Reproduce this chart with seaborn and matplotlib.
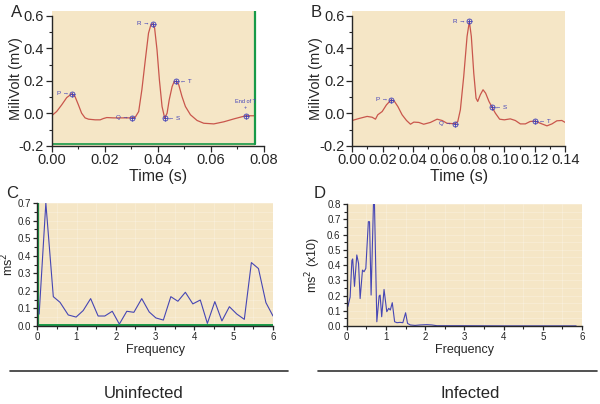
import numpy as np
import pandas as pd
import seaborn as sns
from matplotlib import pyplot as plt
from matplotlib.lines import Line2D
from matplotlib.patches import Rectangle
from matplotlib.ticker import MultipleLocator

# ECG trace, uninfected (panel A)
ecg_a_time = [0.0, 0.0019, 0.0038, 0.0057, 0.0076, 0.0088, 0.0101, 0.0113, 0.0126, 0.0139,
              0.0164, 0.0183, 0.0195, 0.0208, 0.0233, 0.0271, 0.0302, 0.0315, 0.0328, 0.0340,
              0.0353, 0.0365, 0.0374, 0.0382, 0.0388, 0.0397, 0.0406, 0.0416, 0.0426, 0.0435,
              0.0443, 0.0454, 0.0462, 0.0470, 0.0479, 0.0491, 0.0504, 0.0523, 0.0548, 0.0573,
              0.0611, 0.0649, 0.0687, 0.0731, 0.0765]
ecg_a_mv = [-0.015, 0.011, 0.052, 0.097, 0.120, 0.104, 0.052, 0.001, -0.028, -0.036,
            -0.040, -0.040, -0.032, -0.026, -0.028, -0.028, -0.028, -0.024, 0.011, 0.145,
            0.329, 0.493, 0.545, 0.551, 0.524, 0.391, 0.206, 0.042, -0.030, 0.001,
            0.083, 0.165, 0.196, 0.196, 0.175, 0.104, 0.042, -0.009, -0.044, -0.061,
            -0.065, -0.052, -0.034, -0.015, -0.015]
wave_a_names = ["P", "Q", "R", "S", "T", "End of T"]
wave_a_time = [0.0078, 0.0302, 0.0382, 0.0426, 0.0470, 0.0731]
wave_a_mv = [0.120, -0.028, 0.551, -0.030, 0.196, -0.015]

# ECG trace, infected (panel B)
ecg_b_time = [0.0, 0.0044, 0.0098, 0.0131, 0.0153, 0.0168, 0.0197, 0.0225, 0.0256, 0.0278,
              0.0300, 0.0328, 0.0357, 0.0383, 0.0405, 0.0438, 0.0470, 0.0514, 0.0558, 0.0591,
              0.0623, 0.0656, 0.0678, 0.0694, 0.0711, 0.0733, 0.0755, 0.0770, 0.0783, 0.0799,
              0.0814, 0.0825, 0.0842, 0.0860, 0.0877, 0.0899, 0.0919, 0.0941, 0.0969, 0.1000,
              0.1039, 0.1072, 0.1105, 0.1138, 0.1170, 0.1203, 0.1236, 0.1280, 0.1313, 0.1345,
              0.1378, 0.1400]
ecg_b_mv = [-0.044, -0.032, -0.019, -0.024, -0.036, -0.009, 0.011, 0.052, 0.083, 0.073,
            0.042, -0.009, -0.044, -0.067, -0.054, -0.056, -0.067, -0.056, -0.036, -0.044,
            -0.061, -0.063, -0.063, -0.050, 0.022, 0.227, 0.473, 0.565, 0.473, 0.247,
            0.093, 0.073, 0.114, 0.145, 0.124, 0.073, 0.038, 0.001, -0.036, -0.040,
            -0.034, -0.044, -0.065, -0.065, -0.050, -0.048, -0.061, -0.077, -0.065, -0.046,
            -0.044, -0.056]
wave_b_names = ["P", "Q", "R", "S", "T"]
wave_b_time = [0.0256, 0.0678, 0.0770, 0.0919, 0.1203]
wave_b_mv = [0.083, -0.063, 0.565, 0.038, -0.048]

# power spectra (panels C and D)
freq_c = [0.05, 0.22, 0.41, 0.58, 0.79, 0.99, 1.17, 1.36, 1.55, 1.72, 1.91, 2.09, 2.28,
          2.46, 2.66, 2.85, 3.02, 3.21, 3.40, 3.58, 3.77, 3.96, 4.15, 4.33, 4.52, 4.70,
          4.89, 5.08, 5.27, 5.45, 5.63, 5.82, 6.0]
power_c = [0.068, 0.70, 0.167, 0.135, 0.063, 0.051, 0.088, 0.156, 0.057, 0.057, 0.084,
           0.011, 0.084, 0.078, 0.156, 0.080, 0.046, 0.034, 0.167, 0.141, 0.192, 0.126,
           0.148, 0.015, 0.139, 0.029, 0.110, 0.068, 0.038, 0.361, 0.327, 0.133, 0.057]
freq_d = [0.026, 0.085, 0.13, 0.15, 0.196, 0.255, 0.30, 0.34, 0.40, 0.44, 0.485, 0.55,
          0.58, 0.62, 0.68, 0.706, 0.766, 0.825, 0.85, 0.89, 0.95, 1.02, 1.07, 1.11, 1.16,
          1.22, 1.28, 1.36, 1.43, 1.50, 1.55, 1.62, 1.74, 1.87, 2.04, 2.17, 2.30, 3.0,
          4.0, 5.0, 5.85]
power_d = [0.127, 0.19, 0.43, 0.44, 0.26, 0.466, 0.41, 0.18, 0.367, 0.356, 0.378, 0.684,
           0.684, 0.203, 0.80, 0.80, 0.028, 0.197, 0.203, 0.061, 0.24, 0.094, 0.116, 0.105,
           0.153, 0.028, 0.022, 0.024, 0.022, 0.087, 0.017, 0.007, 0.004, 0.007, 0.009,
           0.007, 0.002, 0.002, 0.001, 0.001, 0.001]

BG = "#f5e6c6"
RED = "#c9564c"
BLUE = "#4646b4"
GREEN = "#179a48"
LABEL_BLUE = "#4040b8"

sns.set_style("ticks")
plt.rcParams["font.family"] = ["Liberation Sans", "DejaVu Sans"]
plt.rcParams["axes.unicode_minus"] = False

fig = plt.figure(figsize=(6, 4.04), dpi=100)
ax_a = fig.add_axes([0.086, 0.639, 0.354, 0.334])
ax_b = fig.add_axes([0.587, 0.639, 0.355, 0.334])
ax_c = fig.add_axes([0.062, 0.193, 0.393, 0.3045])
ax_d = fig.add_axes([0.578, 0.193, 0.392, 0.302])


def style_axes(ax, fontsize, major_len=4):
    sns.despine(ax=ax)
    ax.tick_params(axis="both", which="major", direction="out", length=major_len, width=0.9,
                   labelsize=fontsize, pad=1.5)
    ax.tick_params(axis="both", which="minor", direction="out", length=2, width=0.8)
    for side in ("left", "bottom"):
        ax.spines[side].set_linewidth(1.0)


def draw_waves(ax, names, times, values, right_side):
    ax.plot(times, values, ls="none", marker="o", ms=3.6, mfc="none", mec=LABEL_BLUE, mew=0.6)
    ax.plot(times, values, ls="none", marker="+", ms=3.6, mec=LABEL_BLUE, mew=0.6)
    for name, t, v in zip(names, times, values):
        if name == "End of T":
            ax.annotate("End of T\n+", (t, v), xytext=(0, 4), textcoords="offset points",
                        ha="center", va="bottom", fontsize=4, color=LABEL_BLUE, linespacing=1.4)
        elif name in right_side:
            ax.annotate("\u2190 " + name, (t, v), xytext=(2.5, 0), textcoords="offset points",
                        ha="left", va="center", fontsize=4.5, color=LABEL_BLUE)
        else:
            ax.annotate(name + " \u2192", (t, v), xytext=(-2.5, 0), textcoords="offset points",
                        ha="right", va="center", fontsize=4.5, color=LABEL_BLUE)


# panel A
ecg_a = pd.DataFrame({"time": ecg_a_time, "mv": ecg_a_mv})
ax_a.set_facecolor("white")
ax_a.add_patch(Rectangle((0, -0.2), 0.0767, 0.83, facecolor=BG, edgecolor="none", zorder=0))
sns.lineplot(data=ecg_a, x="time", y="mv", ax=ax_a, color=RED, lw=0.9, sort=False)
ax_a.plot([0.0767, 0.0767], [-0.19, 0.63], color=GREEN, lw=1.6)
ax_a.plot([0, 0.0767], [-0.19, -0.19], color=GREEN, lw=1.2)
draw_waves(ax_a, wave_a_names, wave_a_time, wave_a_mv, right_side=("S", "T"))
ax_a.set_xlim(0, 0.08)
ax_a.set_ylim(-0.2, 0.63)
ax_a.spines["left"].set_bounds(-0.2, 0.6)
ax_a.xaxis.set_minor_locator(MultipleLocator(0.01))
ax_a.yaxis.set_minor_locator(MultipleLocator(0.1))
ax_a.set_yticks([-0.2, 0.0, 0.2, 0.4, 0.6])
ax_a.set_xticks(np.round(np.arange(0, 0.081, 0.02), 2))
ax_a.set_xticklabels([f"{v:.2f}" for v in ax_a.get_xticks()])
ax_a.set_yticklabels([f"{v:.1f}" for v in ax_a.get_yticks()])
style_axes(ax_a, 10.5)
ax_a.set_xlabel("Time (s)", fontsize=11.5, labelpad=1)
ax_a.set_ylabel("MiliVolt (mV)", fontsize=10.5)
ax_a.yaxis.set_label_coords(-0.135, 0.5)

# panel B
ecg_b = pd.DataFrame({"time": ecg_b_time, "mv": ecg_b_mv})
ax_b.set_facecolor("white")
ax_b.add_patch(Rectangle((0, -0.2), 0.14, 0.83, facecolor=BG, edgecolor="none", zorder=0))
sns.lineplot(data=ecg_b, x="time", y="mv", ax=ax_b, color=RED, lw=0.9, sort=False)
draw_waves(ax_b, wave_b_names, wave_b_time, wave_b_mv, right_side=("S", "T"))
ax_b.set_xlim(0, 0.14)
ax_b.set_ylim(-0.2, 0.63)
ax_b.spines["left"].set_bounds(-0.2, 0.6)
ax_b.xaxis.set_minor_locator(MultipleLocator(0.01))
ax_b.yaxis.set_minor_locator(MultipleLocator(0.1))
ax_b.set_yticks([-0.2, 0.0, 0.2, 0.4, 0.6])
ax_b.set_xticks(np.round(np.arange(0, 0.141, 0.02), 2))
ax_b.set_xticklabels([f"{v:.2f}" for v in ax_b.get_xticks()])
ax_b.set_yticklabels([f"{v:.1f}" for v in ax_b.get_yticks()])
style_axes(ax_b, 10.5)
ax_b.set_xlabel("Time (s)", fontsize=11.5, labelpad=1)
ax_b.set_ylabel("MiliVolt (mV)", fontsize=10.5)
ax_b.yaxis.set_label_coords(-0.136, 0.5)

# panel C
spec_c = pd.DataFrame({"freq": freq_c, "power": power_c})
ax_c.set_facecolor(BG)
ax_c.grid(True, which="both", color="white", lw=0.4, alpha=0.4)
sns.lineplot(data=spec_c, x="freq", y="power", ax=ax_c, color=BLUE, lw=0.8, sort=False)
ax_c.plot([0.03, 0.03], [0, 0.7], color=GREEN, lw=1.6, zorder=1)
ax_c.plot([0, 6], [0.004, 0.004], color=GREEN, lw=1.4, zorder=1)
ax_c.set_xlim(0, 6)
ax_c.set_ylim(0, 0.7)
ax_c.xaxis.set_major_locator(MultipleLocator(1))
ax_c.xaxis.set_minor_locator(MultipleLocator(0.5))
ax_c.yaxis.set_major_locator(MultipleLocator(0.1))
ax_c.yaxis.set_minor_locator(MultipleLocator(0.05))
ax_c.set_yticklabels([f"{v:.1f}" for v in ax_c.get_yticks()])
style_axes(ax_c, 7, major_len=3)
ax_c.set_xlabel("Frequency", fontsize=9, labelpad=1)
ax_c.set_ylabel("ms$^2$", fontsize=9)
ax_c.yaxis.set_label_coords(-0.089, 0.5)

# panel D
spec_d = pd.DataFrame({"freq": freq_d, "power": power_d})
ax_d.set_facecolor(BG)
ax_d.grid(True, which="both", color="white", lw=0.4, alpha=0.4)
sns.lineplot(data=spec_d, x="freq", y="power", ax=ax_d, color=BLUE, lw=0.8, sort=False)
ax_d.set_xlim(0, 6)
ax_d.set_ylim(0, 0.8)
ax_d.xaxis.set_major_locator(MultipleLocator(1))
ax_d.xaxis.set_minor_locator(MultipleLocator(0.5))
ax_d.yaxis.set_major_locator(MultipleLocator(0.1))
ax_d.yaxis.set_minor_locator(MultipleLocator(0.05))
ax_d.set_yticklabels([f"{v:.1f}" for v in ax_d.get_yticks()])
style_axes(ax_d, 7, major_len=3)
ax_d.set_xlabel("Frequency", fontsize=9, labelpad=1)
ax_d.set_ylabel("ms$^2$ (x10)", fontsize=9)
ax_d.yaxis.set_label_coords(-0.102, 0.5)

# panel letters
fig.text(0.018, 0.988, "A", fontsize=12, va="top")
fig.text(0.518, 0.988, "B", fontsize=12, va="top")
fig.text(0.010, 0.54, "C", fontsize=12, va="top")
fig.text(0.523, 0.54, "D", fontsize=12, va="top")

# group separators and group names
fig.add_artist(Line2D([0.017, 0.48], [0.082, 0.082], color="#333333", lw=1.2))
fig.add_artist(Line2D([0.53, 0.995], [0.082, 0.082], color="#333333", lw=1.2))
fig.text(0.24, 0.025, "Uninfected", fontsize=12, ha="center", va="center")
fig.text(0.784, 0.025, "Infected", fontsize=12, ha="center", va="center")

fig.savefig("out.png", dpi=100)
plt.close(fig)
